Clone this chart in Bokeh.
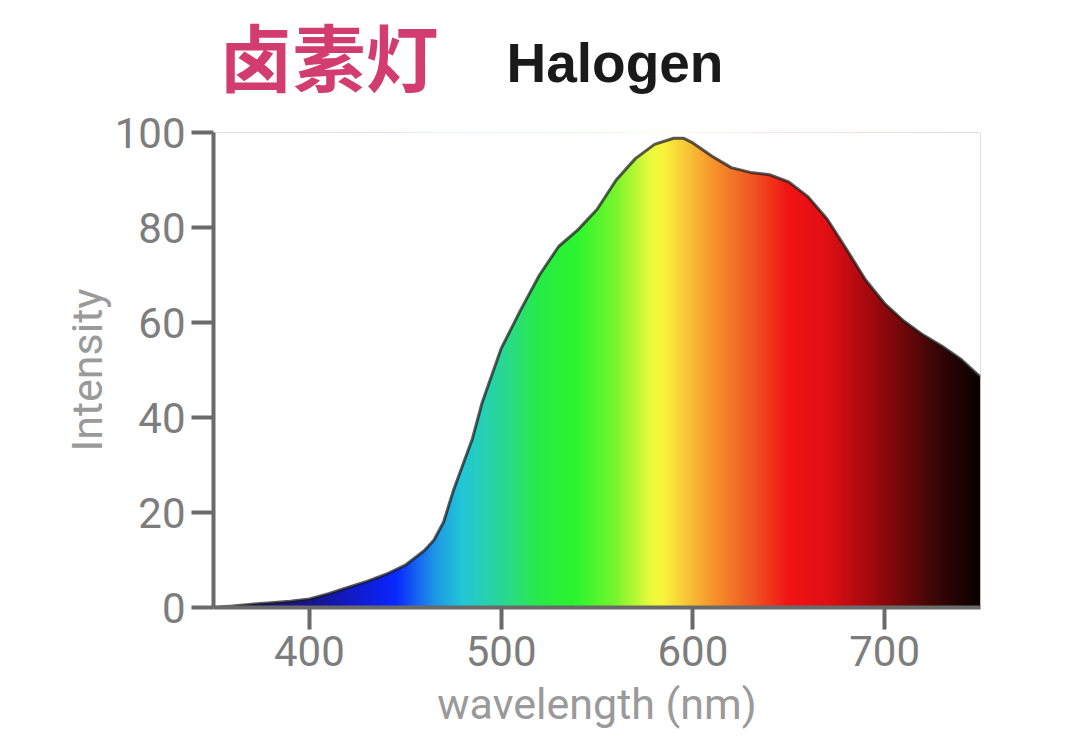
import numpy as np
from bokeh.plotting import figure
from bokeh.models import Range1d, Label
from bokeh.layouts import column
from bokeh.embed import file_html
from bokeh.resources import INLINE

# ---- data ----
wavelength = [350, 360, 370, 380, 390, 400, 410, 420, 430, 440, 450, 460, 465, 470, 475,
              480, 485, 490, 500, 510, 520, 530, 540, 550, 560, 570, 580, 590, 595, 600,
              610, 620, 630, 640, 650, 660, 670, 680, 690, 700, 710, 720, 730, 740, 750]
intensity = [0.0, 0.3, 0.7, 1.0, 1.3, 1.8, 2.9, 4.2, 5.5, 7.0, 8.9, 12.0, 14.2, 18.0, 24.5,
             30.0, 35.5, 43.0, 54.5, 62.5, 70.0, 76.0, 79.5, 83.8, 90.0, 94.5, 97.5, 98.8, 98.8, 97.8,
             95.0, 92.6, 91.6, 91.1, 89.6, 86.5, 81.8, 75.5, 69.0, 64.0, 60.3, 57.4, 55.0, 52.2, 48.5]
x_ticks = [400, 500, 600, 700]
y_ticks = [0, 20, 40, 60, 80, 100]
title_cn = "卤素灯"
title_en = "Halogen"
x_label = "wavelength (nm)"
y_label = "Intensity"

# ---- spectral colour stops (styling) ----
stop_nm = [350, 400, 430, 445, 465, 480, 500, 520, 540, 560, 578, 585, 595, 610, 630,
           650, 670, 690, 710, 730, 750]
stop_rgb = [(40, 20, 90), (25, 20, 140), (15, 30, 220), (10, 40, 255), (30, 150, 230),
            (35, 200, 215), (40, 215, 150), (40, 235, 70), (45, 245, 45), (120, 245, 45),
            (235, 250, 60), (250, 245, 60), (248, 205, 55), (245, 150, 45), (240, 90, 35),
            (240, 20, 20), (225, 15, 20), (170, 10, 15), (110, 8, 10), (50, 5, 5), (10, 0, 0)]

x0, x1 = 350, 750
ncol = 800
cols = np.linspace(x0, x1, ncol)
rgb = np.array(stop_rgb, dtype=float)
img = np.zeros((1, ncol), dtype=np.uint32)
view = img.view(dtype=np.uint8).reshape((1, ncol, 4))
for c in range(3):
    view[0, :, c] = np.interp(cols, stop_nm, rgb[:, c]).astype(np.uint8)
view[0, :, 3] = 255

BL, FW, BR = 213, 767, 84     # left border, frame width, right border (pixels)
TH = 106                      # title strip height

# ---- title strip (frame aligned with the chart frame) ----
t = figure(frame_width=FW, frame_height=TH, output_backend="svg", toolbar_location=None,
           x_range=Range1d(BL, BL + FW), y_range=Range1d(0, TH),
           min_border_left=BL, min_border_right=BR, min_border_top=0, min_border_bottom=0,
           outline_line_color=None)
t.axis.visible = False
t.grid.visible = False
t.add_layout(Label(x=219, y=TH / 2, text=title_cn, text_font="Noto Sans CJK SC",
                   text_font_size="73px", text_color="#d23c6e", text_font_style="bold",
                   text_baseline="middle", text_align="left"))
t.add_layout(Label(x=506, y=TH - 62, text=title_en, text_font="Liberation Sans",
                   text_font_size="55px", text_color="#1a1a1a", text_font_style="bold",
                   text_baseline="middle", text_align="left"))

# ---- main chart ----
p = figure(frame_width=FW, frame_height=475, output_backend="svg", toolbar_location=None,
           x_range=Range1d(x0, x1), y_range=Range1d(0, 100),
           min_border_left=BL, min_border_right=BR, min_border_top=132 - TH,
           min_border_bottom=127)
p.outline_line_color = None
p.xgrid.grid_line_color = None
p.ygrid.grid_line_color = None

# gradient fill, then white mask above the curve
mask_x = [wavelength[0] - 5] + wavelength + [wavelength[-1] + 5]
mask_y = [intensity[0]] + intensity + [intensity[-1]]
p.image_rgba(image=[img], x=x0, y=0, dw=x1 - x0, dh=100)
p.varea(x=mask_x, y1=mask_y, y2=[105] * len(mask_x), fill_color="white")
p.line(wavelength, intensity, line_color="#141414", line_alpha=0.7, line_width=3)

axis_col = "#6a6a6a"
lab_col = "#7d7d7d"
font = "Roboto"
for ax in (p.xaxis[0], p.yaxis[0]):
    ax.axis_line_color = axis_col
    ax.axis_line_width = 4
    ax.major_tick_line_color = axis_col
    ax.major_tick_line_width = 4
    ax.major_tick_out = 22
    ax.major_tick_in = 0
    ax.minor_tick_line_color = None
    ax.major_label_text_font = font
    ax.major_label_text_font_size = "42px"
    ax.major_label_text_color = lab_col
    ax.axis_label_text_font = font
    ax.axis_label_text_font_size = "43px"
    ax.axis_label_text_font_style = "normal"
    ax.axis_label_text_color = "#9a9a9a"
    ax.major_label_standoff = 6

p.xaxis.ticker = x_ticks
p.yaxis.ticker = y_ticks
p.xaxis.axis_label = x_label
p.yaxis.axis_label = y_label
p.xaxis.axis_label_standoff = 10
p.yaxis.axis_label_standoff = 0

layout = column(t, p, spacing=0)
open("out.html", "w").write(file_html(layout, INLINE))
